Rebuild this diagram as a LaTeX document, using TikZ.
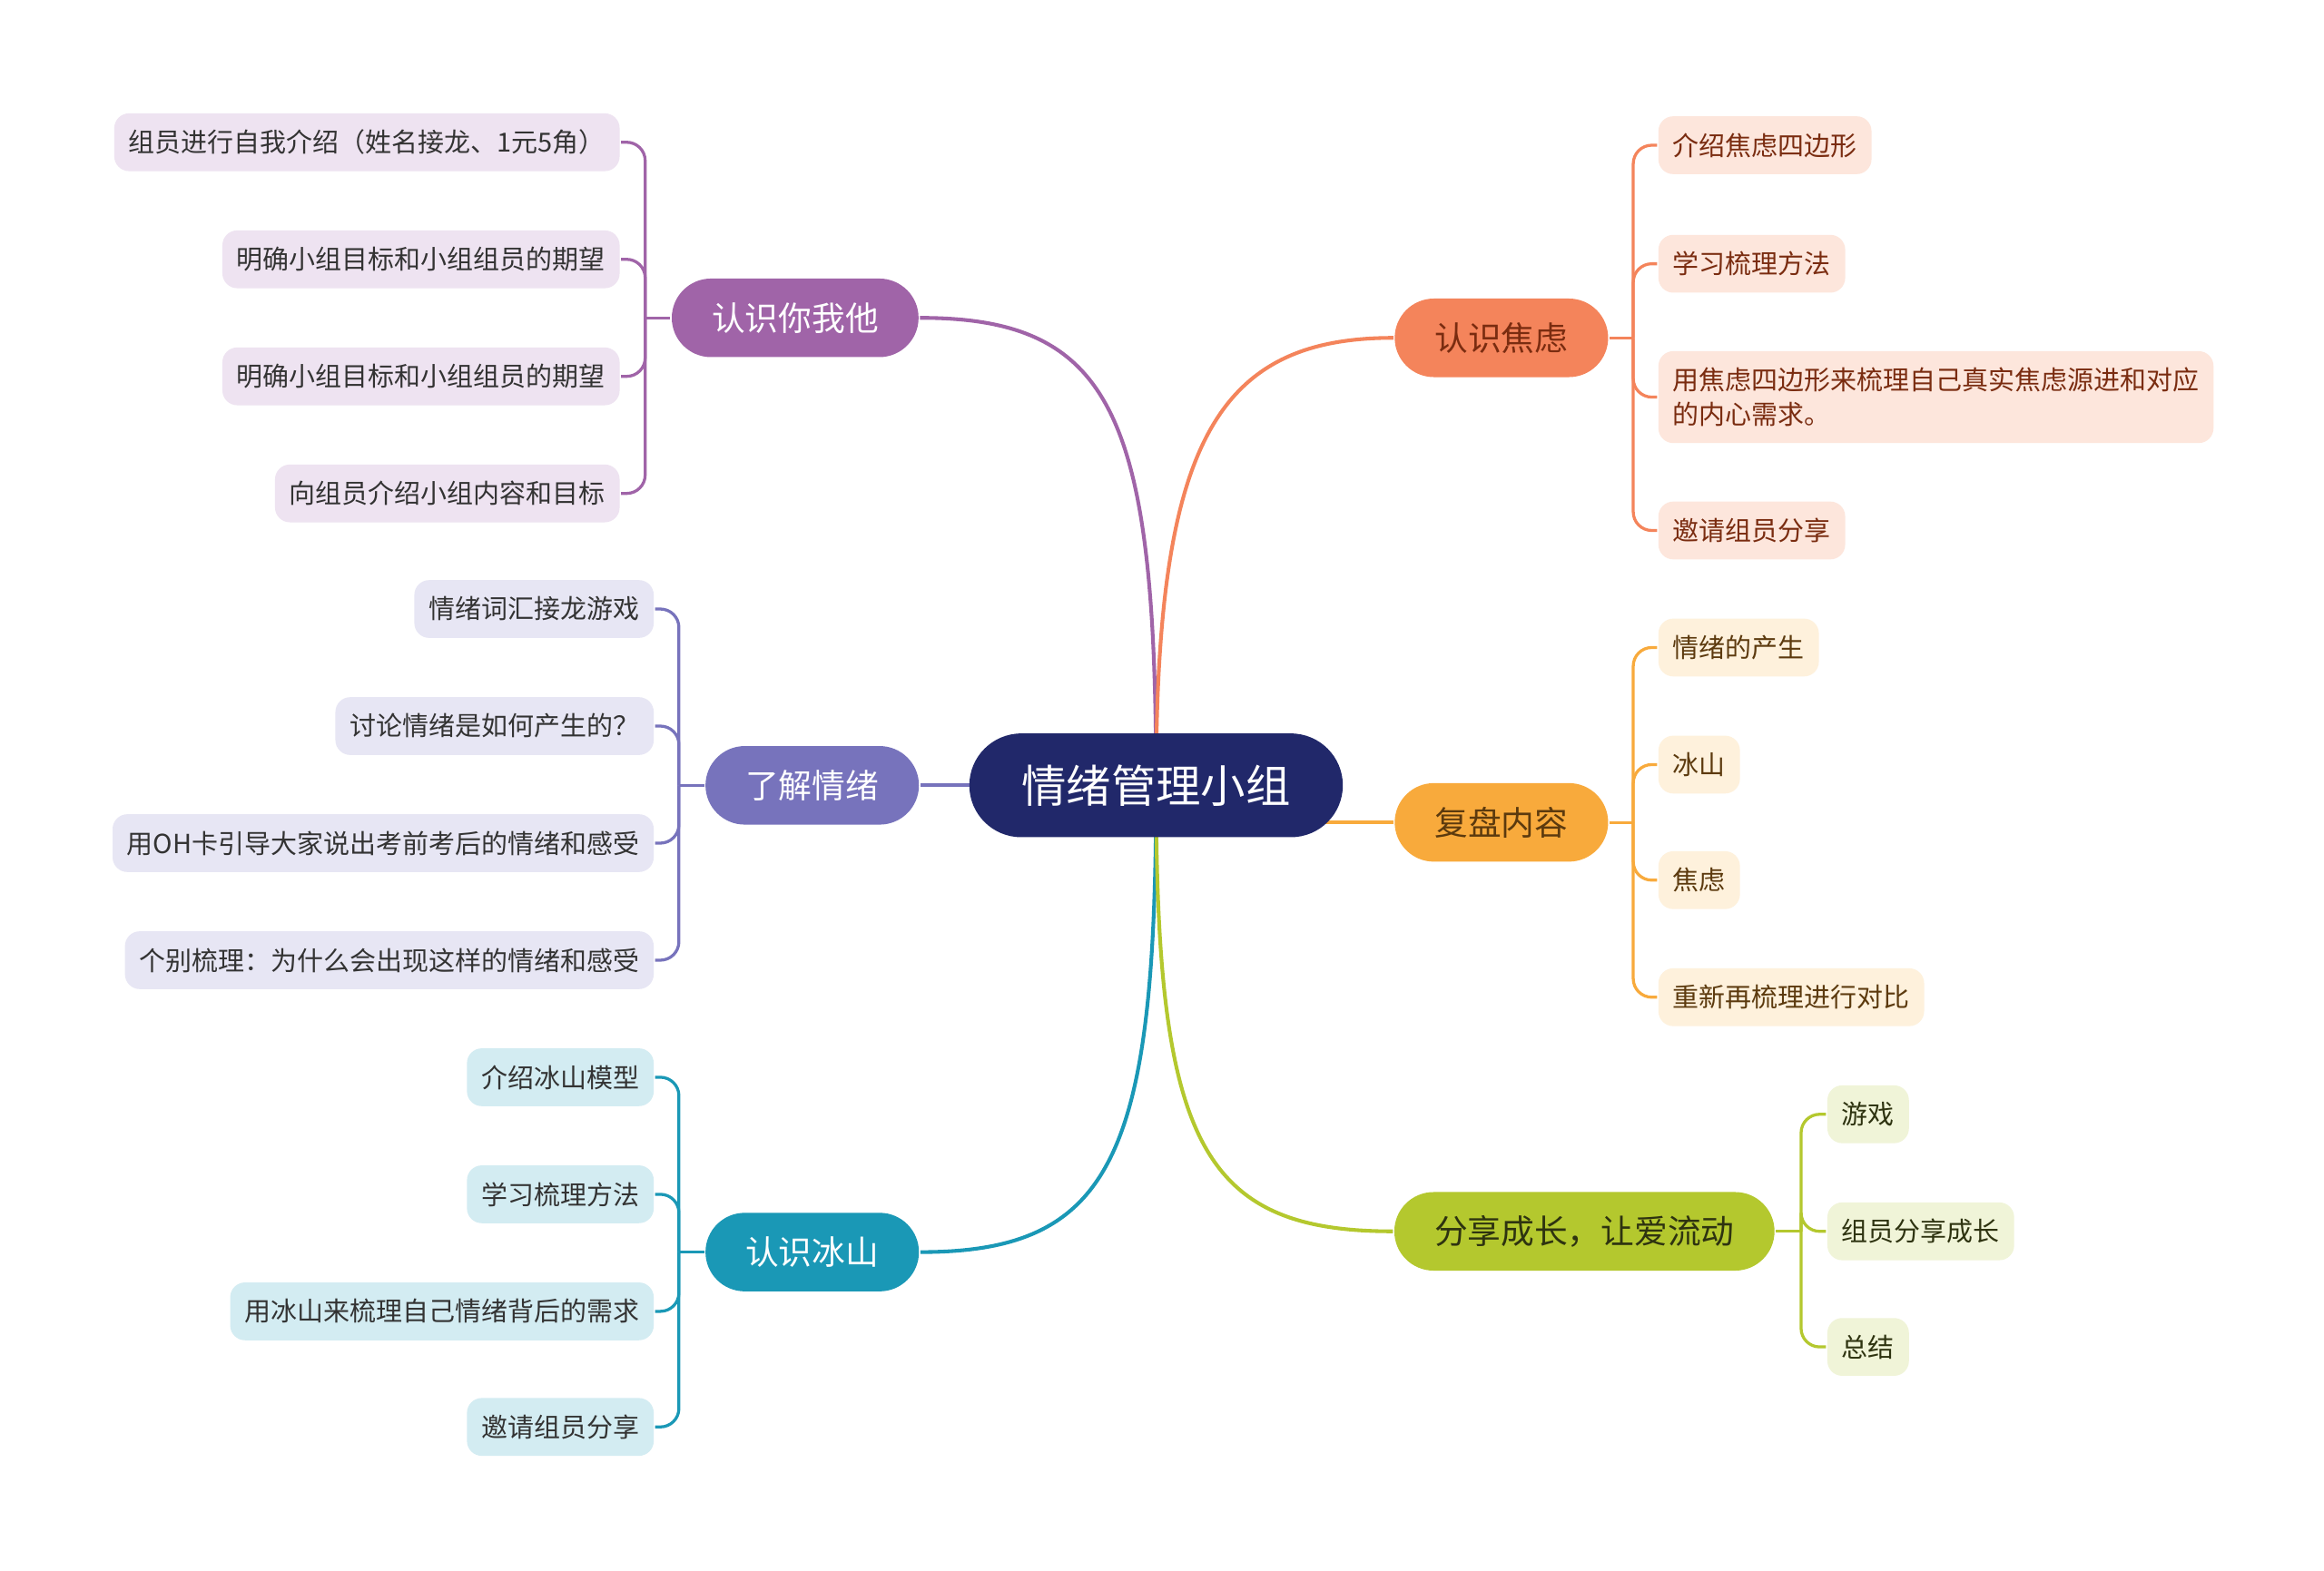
\documentclass[tikz,border=0pt]{standalone}
\usepackage{fontspec}
\setmainfont{Noto Sans CJK SC}
\usetikzlibrary{backgrounds}

\definecolor{rootblue}{HTML}{21286A}
\definecolor{cpurple}{HTML}{A064A8}
\definecolor{cviolet}{HTML}{7773BC}
\definecolor{cteal}{HTML}{1A98B6}
\definecolor{corange}{HTML}{F4845B}
\definecolor{cyellow}{HTML}{F8AA3C}
\definecolor{cgreen}{HTML}{B4C82E}
\definecolor{purplefill}{HTML}{EEE3F1}
\definecolor{violetfill}{HTML}{E7E6F4}
\definecolor{tealfill}{HTML}{D3ECF2}
\definecolor{orangefill}{HTML}{FDE6DC}
\definecolor{yellowfill}{HTML}{FEF1DC}
\definecolor{greenfill}{HTML}{F0F4D8}
\definecolor{orangetext}{HTML}{7A2C10}
\definecolor{yellowtext}{HTML}{5C3A0E}
\definecolor{greentext}{HTML}{2E3310}
\definecolor{leaftext}{HTML}{333333}

\tikzset{every picture/.style={line width=0.75pt}}

\begin{document}
\begin{tikzpicture}[x=0.4pt,y=0.4pt,yscale=-1,xscale=1,
  rootnode/.style={fill=rootblue, text=white, rounded corners=14pt, minimum width=100.8pt, minimum height=28pt, font=\fontsize{12.1}{14}\selectfont},
  mainnode/.style={rounded corners=10.6pt, minimum height=21.2pt, inner xsep=10.8pt, font=\fontsize{9}{11}\selectfont},
  leafnode/.style={rounded corners=4pt, minimum height=15.6pt, inner xsep=3.9pt, font=\fontsize{7.1}{9.2}\selectfont},
  pleaf/.style={leafnode, fill=purplefill, text=leaftext},
  vleaf/.style={leafnode, fill=violetfill, text=leaftext},
  tleaf/.style={leafnode, fill=tealfill, text=leaftext},
  oleaf/.style={leafnode, fill=orangefill, text=orangetext},
  yleaf/.style={leafnode, fill=yellowfill, text=yellowtext},
  gleaf/.style={leafnode, fill=greenfill, text=greentext},
  bline/.style={line width=1pt},
  lline/.style={line width=0.8pt, rounded corners=5pt}]

	% page
	\useasboundingbox (0,0) rectangle (1568,1060);

	% centre
	\node[rootnode] (root) at (780,530) {情绪管理小组};

	% main branches
	\node[mainnode, fill=cpurple, text=white] (know) at (536.5,214.5) {认识你我他};
	\node[mainnode, fill=cviolet, text=white] (emotion) at (548,530) {了解情绪};
	\node[mainnode, fill=cteal, text=white] (iceberg) at (548,845) {认识冰山};
	\node[mainnode, fill=corange, text=orangetext] (anxiety) at (1013,228) {认识焦虑};
	\node[mainnode, fill=cyellow, text=yellowtext] (review) at (1013,555) {复盘内容};
	\node[mainnode, fill=cgreen, text=greentext] (share) at (1069,831) {分享成长，让爱流动};

	% leaves of 认识你我他
	\node[pleaf, anchor=east] (know1) at (419,96) {组员进行自我介绍（姓名接龙、1元5角）};
	\node[pleaf, anchor=east] (know2) at (419,175) {明确小组目标和小组组员的期望};
	\node[pleaf, anchor=east] (know3) at (419,254) {明确小组目标和小组组员的期望};
	\node[pleaf, anchor=east] (know4) at (419,333) {向组员介绍小组内容和目标};

	% leaves of 了解情绪
	\node[vleaf, anchor=east] (emotion1) at (442,411) {情绪词汇接龙游戏};
	\node[vleaf, anchor=east] (emotion2) at (442,490) {讨论情绪是如何产生的？};
	\node[vleaf, anchor=east] (emotion3) at (442,569) {用OH卡引导大家说出考前考后的情绪和感受};
	\node[vleaf, anchor=east] (emotion4) at (442,648) {个别梳理：为什么会出现这样的情绪和感受};

	% leaves of 认识冰山
	\node[tleaf, anchor=east] (iceberg1) at (442,727) {介绍冰山模型};
	\node[tleaf, anchor=east] (iceberg2) at (442,806) {学习梳理方法};
	\node[tleaf, anchor=east] (iceberg3) at (442,885) {用冰山来梳理自己情绪背后的需求};
	\node[tleaf, anchor=east] (iceberg4) at (442,963) {邀请组员分享};

	% leaves of 认识焦虑
	\node[oleaf, anchor=west] (anxiety1) at (1118,98) {介绍焦虑四边形};
	\node[oleaf, anchor=west] (anxiety2) at (1118,178) {学习梳理方法};
	\node[oleaf, anchor=west, align=left, minimum height=24.8pt] (anxiety3) at (1118,268) {用焦虑四边形来梳理自己真实焦虑源进和对应\\的内心需求。};
	\node[oleaf, anchor=west] (anxiety4) at (1118,358) {邀请组员分享};

	% leaves of 复盘内容
	\node[yleaf, anchor=west] (review1) at (1118,437) {情绪的产生};
	\node[yleaf, anchor=west] (review2) at (1118,516) {冰山};
	\node[yleaf, anchor=west] (review3) at (1118,594) {焦虑};
	\node[yleaf, anchor=west] (review4) at (1118,673) {重新再梳理进行对比};

	% leaves of 分享成长
	\node[gleaf, anchor=west] (share1) at (1232,752) {游戏};
	\node[gleaf, anchor=west] (share2) at (1232,831) {组员分享成长};
	\node[gleaf, anchor=west] (share3) at (1232,909) {总结};

	% centre to main branches
	\begin{scope}[on background layer]
	\fill[white] (0,0) rectangle (1568,1060);
	\draw[bline, cpurple] (root.center) .. controls +(0,-250) and +(130,0) .. (know.east);
	\draw[bline, cviolet] (root.center) -- (emotion.east);
	\draw[bline, cteal] (root.center) .. controls +(0,250) and +(130,0) .. (iceberg.east);
	\draw[bline, corange] (root.center) .. controls +(0,-230) and +(-120,0) .. (anxiety.west);
	\draw[bline, cyellow] (root.center) |- (review.west);
	\draw[bline, cgreen] (root.center) .. controls +(0,240) and +(-130,0) .. (share.west);
	\end{scope}

	% main branches to leaves
	\draw[lline, cpurple] (know.west) -- ++(-17,0);
	\foreach \i in {1,...,4}
		\draw[lline, cpurple] (know.west) ++(-17,0) |- (know\i.east);
	\draw[lline, cviolet] (emotion.west) -- ++(-17,0);
	\foreach \i in {1,...,4}
		\draw[lline, cviolet] (emotion.west) ++(-17,0) |- (emotion\i.east);
	\draw[lline, cteal] (iceberg.west) -- ++(-17,0);
	\foreach \i in {1,...,4}
		\draw[lline, cteal] (iceberg.west) ++(-17,0) |- (iceberg\i.east);
	\draw[lline, corange] (anxiety.east) -- ++(16,0);
	\foreach \i in {1,...,4}
		\draw[lline, corange] (anxiety.east) ++(16,0) |- (anxiety\i.west);
	\draw[lline, cyellow] (review.east) -- ++(16,0);
	\foreach \i in {1,...,4}
		\draw[lline, cyellow] (review.east) ++(16,0) |- (review\i.west);
	\draw[lline, cgreen] (share.east) -- ++(17,0);
	\foreach \i in {1,...,3}
		\draw[lline, cgreen] (share.east) ++(17,0) |- (share\i.west);

\end{tikzpicture}
\end{document}
